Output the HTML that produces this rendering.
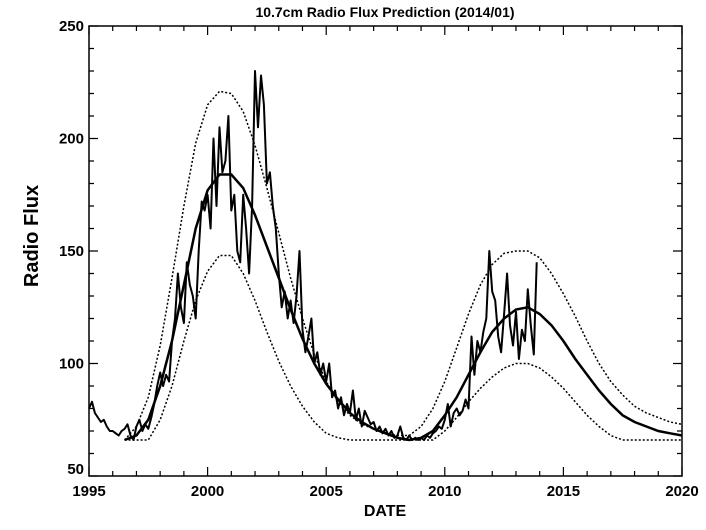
<!DOCTYPE html>
<html><head><meta charset="utf-8"><style>
body{margin:0;background:#fff;}
svg{display:block;font-family:"Liberation Sans",Arial,sans-serif;}
</style></head><body>
<svg id="chart" width="706" height="530" viewBox="0 0 706 530" xmlns="http://www.w3.org/2000/svg">
<text x="385" y="17" text-anchor="middle" font-size="14" font-weight="bold">10.7cm Radio Flux Prediction (2014/01)</text>
<text transform="translate(38,236) rotate(-90)" text-anchor="middle" font-size="20" font-weight="bold">Radio Flux</text>
<text x="385" y="516" text-anchor="middle" font-size="16" font-weight="bold">DATE</text>
<g id="axes"></g>
<g id="series"></g>
</svg>
<script>
const xTicks=[1995,2000,2005,2010,2015,2020];
const yTicks=[50,100,150,200,250];
const predYears=[1996.5,1997,1997.5,1998,1998.5,1999,1999.5,2000,2000.5,2001,2001.5,2002,2002.5,2003,2003.5,2004,2004.5,2005,2005.5,2006,2006.5,2007,2007.5,2008,2008.5,2009,2009.5,2010,2010.5,2011,2011.5,2012,2012.5,2013,2013.5,2014,2014.5,2015,2015.5,2016,2016.5,2017,2017.5,2018,2018.5,2019,2019.5,2020];
const predMean=[66,68,75,90,110,135,160,177,184,184,178,166,152,138,124,111,100,91,84,78,74,71,69,67,66,67,70,77,85,95,105,114,120,124,125,122,117,110,102,95,88,82,77,74,72,70,69,68];
const predUpper=[66,72,85,108,138,170,198,215,221,220,212,197,178,158,138,120,104,92,83,77,73,71,69,68,68,72,80,92,107,122,135,144,149,150,150,147,140,131,121,110,100,92,86,81,78,76,74,73];
const predLower=[66,66,66,75,90,110,128,141,148,148,140,128,114,101,90,81,74,69,67,66,66,66,66,66,66,66,66,70,76,83,89,94,98,100,100,98,94,89,83,77,72,68,66,66,66,66,66,66];
const obsStart=1995, obsStep=0.125;
const obsValues=[80,83,78,76,74,75,72,70, 70,69,68,70,71,73,68,66, 72,75,70,73,71,76,82,90, 96,90,95,92,110,120,140,125, 118,145,135,130,120,150,172,168, 175,160,200,170,205,185,190,210, 168,175,150,145,175,160,140,170, 230,205,228,215,180,185,170,160, 140,125,132,120,128,118,130,150, 115,105,112,120,100,105,95,100, 92,100,85,88,80,85,77,82, 78,88,75,80,72,79,76,73, 74,70,72,69,71,68,70,67, 68,72,67,66,68,66,67,66, 67,66,68,67,69,70,72,71, 75,82,72,78,80,77,79,84, 80,112,95,110,105,114,120,150, 132,128,112,105,122,140,117,108, 123,102,115,110,133,117,104,145];
const L=89,R=682,T=26,B=476;
const X=v=>L+(v-1995)/(2020-1995)*(R-L);
const Y=v=>B-(v-50)/(250-50)*(B-T);
const NS="http://www.w3.org/2000/svg";
const axes=document.getElementById('axes'), ser=document.getElementById('series');
function mk(tag,parent,attrs){const e=document.createElementNS(NS,tag);for(const k in attrs)e.setAttribute(k,attrs[k]);parent.appendChild(e);return e;}
const frame=mk('rect',axes,{x:L,y:T,width:R-L,height:B-T,fill:'none',stroke:'#000','stroke-width':1.5});


let td='';
for(let yr=1995;yr<=2020;yr++){const x=X(yr),len=(yr%5===0)?9:5;td+=`M${x},${B}v${-len}M${x},${T}v${len}`;}
for(let v=50;v<=250;v+=10){const y=Y(v),len=(v%50===0)?9:5;td+=`M${L},${y}h${len}M${R},${y}h${-len}`;}
const ticks=mk('path',axes,{d:td,stroke:'#000','stroke-width':1.2,fill:'none'});


xTicks.forEach(v=>{const t=mk('text',axes,{x:X(v),y:B+20,'text-anchor':'middle','font-size':15,'font-weight':'bold'});t.textContent=v;

});
yTicks.forEach(v=>{const t=mk('text',axes,{x:L-5,y:Y(v)+(v===250?5:v===50?-2:5),'text-anchor':'end','font-size':15,'font-weight':'bold'});t.textContent=v;

});
function line(xs,ys,attrs){return mk('path',ser,Object.assign({d:xs.map((x,i)=>(i?'L':'M')+X(x).toFixed(1)+','+Y(ys[i]).toFixed(1)).join(''),fill:'none',stroke:'#000'},attrs));}
const up=line(predYears,predUpper,{'stroke-width':1.5,'stroke-dasharray':'2,2'});


const lo=line(predYears,predLower,{'stroke-width':1.5,'stroke-dasharray':'2,2'});


const mean=line(predYears,predMean,{'stroke-width':2.5});


const obsYears=obsValues.map((_,i)=>obsStart+i*obsStep);
const obs=line(obsYears,obsValues,{'stroke-width':2,'stroke-linejoin':'round'});


</script>
</body></html>
